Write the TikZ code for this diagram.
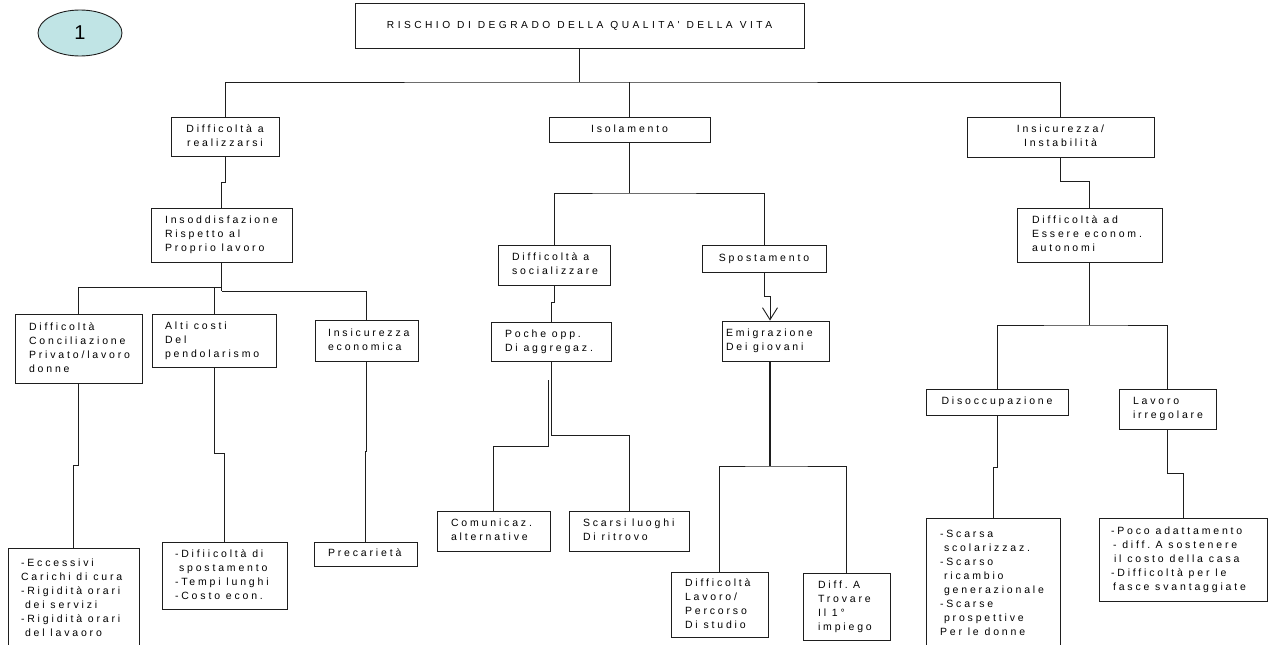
\documentclass[tikz,border=0pt]{standalone}
\usepackage{fontspec}
\setmainfont{Liberation Sans}
\newfontfamily\boxfont[LetterSpace=27,Ligatures=NoCommon]{Liberation Sans}
\newfontfamily\titlefont[LetterSpace=34,Ligatures=NoCommon]{Liberation Sans}
\usetikzlibrary{shapes.geometric,arrows.meta}
\definecolor{ovalfill}{RGB}{192,228,229}
\definecolor{ln}{RGB}{30,30,30}
\tikzset{
  box/.style={draw=ln, line width=0.9pt, rectangle, inner ysep=0pt,
    font=\boxfont\fontsize{10.5}{14}\selectfont},
  colalign-l/.style={align=left},
  colalign-c/.style={align=center},
  conn/.style={draw=ln, line width=0.9pt},
  thk/.style={draw=ln, line width=1.6pt},
}
% name, x1, y1, x2, y2, left pad, column type (l/c), text
\newcommand\mybox[8]{%
  \pgfmathsetmacro\mbh{#5-#3}%
  \pgfmathsetmacro\mbtw{#4-#2-2*#6}%
  \node[box, minimum height=\mbh pt, text width=\mbtw pt, inner xsep=#6 pt,
    colalign-#7] (#1) at ({(#2+#4)/2},{(#3+#5)/2})
    {\spaceskip=5.8pt\relax\begin{tabular}{@{}#7@{}}#8\end{tabular}};}
\begin{document}
\begin{tikzpicture}[x=1pt,y=-1pt]
\useasboundingbox (0,0) rectangle (1274,645);
\clip (0,0) rectangle (1274,645);

\node[draw=ln, line width=0.9pt, ellipse, fill=ovalfill, minimum width=84pt,
  minimum height=46pt, inner sep=0pt, font=\fontsize{20}{24}\selectfont] (one) at (80,33) {1};

\mybox{top}{355}{3}{804}{48}{5}{c}{\titlefont\fontsize{10.2}{12}\selectfont\spaceskip=7pt\relax RISCHIO DI DEGRADO DELLA QUALITA' DELLA VITA}

\mybox{r1}{171}{117}{279}{156}{5}{c}{Difficoltà a\\realizzarsi}
\mybox{r2}{549}{117}{710}{142}{5}{c}{Isolamento}
\mybox{r3}{967}{117}{1154}{157}{5}{c}{Insicurezza/\\Instabilità}

\mybox{ins}{151}{208}{292}{262}{14}{l}{Insoddisfazione\\Rispetto al\\Proprio lavoro}
\mybox{dc}{15}{314}{142}{383}{14}{l}{Difficoltà\\Conciliazione\\Privato/lavoro\\donne}
\mybox{ac}{152}{314}{276}{367}{13}{l}{Alti costi\\Del\\pendolarismo}
\mybox{ie}{315}{320}{418}{361}{13}{l}{Insicurezza\\economica}
\mybox{ec}{8}{548}{139}{650}{13}{l}{-Eccessivi\\Carichi di cura\\-Rigidità orari\\\hspace*{4pt}dei servizi\\-Rigidità orari\\\hspace*{4pt}del lavaoro}
\mybox{ds}{162}{542}{287}{609}{13}{l}{-Difiicoltà di\\\hspace*{4pt}spostamento\\-Tempi lunghi\\-Costo econ.}
\mybox{pr}{314}{542}{417}{566}{14}{l}{Precarietà}

\mybox{soc}{498}{245}{610}{285}{14}{l}{Difficoltà a\\socializzare}
\mybox{spo}{702}{245}{826}{272}{5}{c}{Spostamento}
\mybox{po}{491}{322}{611}{361}{14}{l}{Poche opp.\\Di aggregaz.}
\mybox{em}{722}{321}{829}{361}{4}{l}{Emigrazione\\Dei giovani}
\mybox{co}{437}{511}{550}{551}{14}{l}{Comunicaz.\\alternative}
\mybox{sl}{569}{511}{689}{551}{14}{l}{Scarsi luoghi\\Di ritrovo}
\mybox{dl}{671}{572}{768}{637}{14}{l}{Difficoltà\\Lavoro/\\Percorso\\Di studio}
\mybox{dt}{803}{573}{890}{640}{15}{l}{Diff. A\\Trovare\\Il 1°\\impiego}

\mybox{da}{1017}{208}{1162}{262}{15}{l}{Difficoltà ad\\Essere econom.\\autonomi}
\mybox{dis}{926}{389}{1068}{415}{5}{c}{Disoccupazione}
\mybox{lav}{1119}{389}{1216}{429}{14}{l}{Lavoro\\irregolare}
\mybox{sc}{926}{518}{1060}{649}{14}{l}{-Scarsa\\\hspace*{4pt}scolarizzaz.\\-Scarso\\\hspace*{4pt}ricambio\\\hspace*{4pt}generazionale\\-Scarse\\\hspace*{4pt}prospettive\\Per le donne}
\mybox{pc}{1099}{518}{1267}{601}{12}{l}{-Poco adattamento\\\hspace*{2pt}- diff. A sostenere\\\hspace*{3pt}il costo della casa\\-Difficoltà per le\\\hspace*{2pt}fasce svantaggiate}

% level coordinates
\foreach \yy in {82,181,182,193,287,291,296,302,325,380,435,446,451,453,465,466,467,473}
  {\coordinate (y\yy) at (0,\yy);}

% top level
\draw[thk] (top.south) -- (top.south |- y82) coordinate (b1);
\draw[conn] (r1.north) |- (b1) -| (r3.north);
\draw[conn] (r2.north) -- (r2.north |- b1);

% left branch
\draw[conn] (r1.south) -- (r1.south |- y182) -| (ins.north);
\draw[thk] (ins.south) -- (ins.south |- y291);
\draw[conn] (dc.north) |- (ins.south |- y287);
\draw[conn] (ac.north) -- (ac.north |- y287);
\draw[conn] (ins.south |- y291) -| (ie.north);
\draw[conn] (dc.south) -- (dc.south |- y465) -| (ec.north);
\draw[conn] (ac.south) -- (ac.south |- y453) -| (ds.north);
\draw[conn] (ie.south) -- (ie.south |- y451) -| (pr.north);

% middle branch
\draw[thk] (r2.south) -- (r2.south |- y193) coordinate (b2);
\draw[conn] (soc.north) |- (b2) -| (spo.north);
\draw[conn] (soc.south) -- (soc.south |- y302) -| (po.north);
\coordinate (emn) at ([xshift=-5.5pt]em.north);
\draw[conn, -{Straight Barb[length=12pt,width=15pt]}] (spo.south) -- (spo.south |- y296) -| (emn);
\draw[conn] (po.south) -- (po.south |- y435) -| (sl.north);
\coordinate (pol) at ([xshift=-2.5pt]po.south);
\draw[conn] (pol |- y380) -- (pol |- y446) -| (co.north);
\coordinate (ems) at ([xshift=-5.5pt]em.south);
\draw[thk] (ems) -- (ems |- y466) coordinate (ej);
\draw[conn] (dl.north) |- (ej) -| (dt.north);

% right branch
\draw[conn] (r3.south) -- (r3.south |- y181) -| (da.north);
\draw[thk] (da.south) -- (da.south |- y325) coordinate (b3);
\draw[conn] (dis.north) |- (b3) -| (lav.north);
\draw[conn] (dis.south) -- (dis.south |- y467) -| (sc.north);
\draw[conn] (lav.south) -- (lav.south |- y473) -| (pc.north);
\end{tikzpicture}
\end{document}
